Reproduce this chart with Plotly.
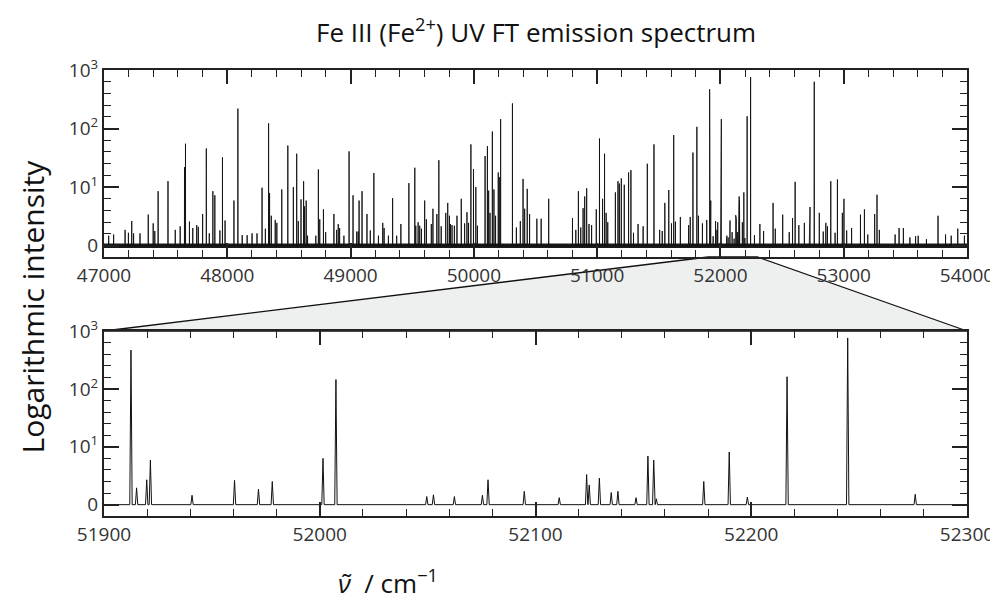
import numpy as np
import plotly.graph_objects as go

# ---------------- data ----------------
TOP_RANGE = [47000, 54000]
ZOOM_RANGE = [51900, 52300]
TOP_XTICKS = [47000, 48000, 49000, 50000, 51000, 52000, 53000, 54000]
ZOOM_XTICKS = [51900, 52000, 52100, 52200, 52300]

# line positions (cm^-1) and linear intensities
PEAK_POS = [
    47038, 47078, 47171, 47198, 47225, 47240, 47292, 47359, 47399, 47412,
    47439, 47519, 47578, 47618, 47653, 47661, 47693, 47720, 47752, 47765,
    47800, 47830, 47854, 47883, 47899, 47940, 47961, 47982, 48054, 48086,
    48121, 48161, 48201, 48241, 48282, 48309, 48335, 48343, 48357, 48389,
    48402, 48442, 48491, 48536, 48563, 48576, 48598, 48619, 48627, 48640,
    48651, 48718, 48739, 48750, 48780, 48798, 48865, 48887, 48900, 48911,
    48946, 48988, 49020, 49050, 49062, 49069, 49093, 49133, 49160, 49189,
    49226, 49261, 49272, 49307, 49341, 49374, 49408, 49473, 49521, 49529,
    49548, 49561, 49575, 49601, 49615, 49655, 49668, 49700, 49716, 49735,
    49772, 49788, 49802, 49810, 49823, 49842, 49863, 49898, 49925, 49944,
    49957, 49976, 49997, 50016, 50029, 50091, 50110, 50120, 50131, 50150,
    50163, 50176, 50198, 50206, 50217, 50313, 50345, 50377, 50399, 50412,
    50433, 50452, 50511, 50546, 50607, 50800, 50827, 50848, 50867, 50886,
    50899, 50915, 50934, 50955, 50993, 51019, 51044, 51060, 51073, 51086,
    51148, 51169, 51180, 51196, 51220, 51255, 51274, 51295, 51332, 51373,
    51407, 51461, 51507, 51528, 51549, 51581, 51603, 51621, 51635, 51675,
    51742, 51755, 51777, 51809, 51822, 51854, 51889,
    51912.5, 51915.1, 51919.8, 51921.5, 51940.8, 51960.5, 51971.6, 51978.0,
    52001.5, 52007.5, 52049.6, 52052.7, 52062.4, 52075.4, 52078.0, 52094.8,
    52111.0, 52123.7, 52124.9, 52129.6, 52135.1, 52138.2, 52146.6, 52152.1,
    52154.8, 52156.0, 52178.0, 52189.8, 52198.2, 52216.6, 52244.7, 52276.0,
    52320, 52350, 52427, 52445, 52505, 52558, 52585, 52606, 52636, 52681,
    52721, 52727, 52761, 52802, 52834, 52855, 52868, 52895, 52930, 52949,
    52989, 53002, 53024, 53064, 53136, 53168, 53195, 53251, 53270, 53289,
    53417, 53449, 53484, 53537, 53583, 53604, 53671, 53765, 53826, 53872,
    53925, 53979,
]
PEAK_INT = [
    0.48, 0.55, 0.86, 0.66, 1.63, 0.62, 0.62, 2.39, 1.40, 0.78,
    7.51, 11.6, 0.86, 1.14, 20.9, 54.0, 1.57, 1.00, 1.24, 1.09,
    2.47, 44.7, 0.62, 7.51, 6.24, 0.82, 31.4, 1.69, 4.89, 218,
    0.51, 0.51, 0.62, 0.62, 8.77, 0.95, 122, 6.94, 2.24, 1.75,
    1.45, 8.12, 50.3, 9.00, 36.2, 1.63, 5.17, 11.6, 3.68, 4.89,
    0.48, 0.48, 19.0, 1.82, 3.17, 0.70, 2.47, 0.86, 1.34, 1.00,
    0.48, 39.7, 6.24, 0.74, 0.74, 4.89, 7.51, 2.47, 0.82, 16.4,
    0.48, 1.45, 1.00, 0.48, 5.46, 0.48, 1.34, 10.7, 20.4, 1.19,
    1.51, 1.19, 0.95, 4.89, 1.82, 1.34, 3.27, 2.47, 27.8, 1.14,
    2.63, 4.37, 2.24, 1.34, 1.24, 1.19, 2.24, 5.31, 1.40, 2.72,
    1.45, 52.7, 19.4, 9.00, 1.19, 32.9, 49.1, 7.71, 2.63, 88.1,
    8.12, 2.24, 16.8, 13.8, 144, 268, 1.04, 1.63, 12.8, 3.27,
    8.33, 2.47, 1.88, 1.88, 5.31, 1.95, 0.86, 7.51, 1.04, 3.37,
    5.92, 8.55, 1.34, 1.24, 3.17, 66.6, 5.31, 36.2, 2.63, 1.51,
    7.13, 11.6, 10.5, 13.1, 9.96, 16.8, 18.5, 0.66, 1.34, 1.14,
    24.1, 52.7, 0.86, 0.78, 4.37, 7.91, 1.40, 76.6, 1.57, 2.09,
    1.24, 2.09, 37.9, 106, 2.24, 1.40, 1.75,
    467, 0.95, 1.69, 4.89, 0.45, 1.63, 0.86, 1.51,
    5.31, 144, 0.38, 0.48, 0.38, 0.45, 1.69, 0.70,
    0.32, 2.31, 1.19, 1.88, 0.62, 0.70, 0.32, 5.92,
    4.89, 0.26, 1.51, 7.13, 0.35, 161, 758, 0.51,
    1.34, 0.78, 4.37, 0.95, 2.39, 0.70, 1.95, 11.3, 1.24, 1.45,
    1.34, 3.57, 630, 2.63, 0.74, 1.45, 1.14, 11.6, 0.66, 12.5,
    2.63, 5.31, 0.82, 1.00, 2.39, 3.17, 0.55, 2.47, 6.41, 0.86,
    0.55, 1.00, 1.00, 0.38, 0.45, 0.48, 0.29, 2.24, 0.55, 0.48,
    0.95, 0.48,
]

Y_TICK_EXP = [1, 2, 3]

# ---------------- build spectra ----------------
pos = np.array(PEAK_POS, dtype=float)
inten = np.array(PEAK_INT, dtype=float)
order = np.argsort(pos)
pos, inten = pos[order], inten[order]
logI = np.log10(1.0 + inten)


def spectrum(lo, hi, hw):
    xs, ys = [lo], [0.0]
    for p, h in zip(pos, logI):
        if lo <= p <= hi:
            xs += [p - hw, p, p + hw]
            ys += [0.0, h, 0.0]
    xs.append(hi)
    ys.append(0.0)
    return xs, ys


xt, yt = spectrum(TOP_RANGE[0], TOP_RANGE[1], 0.6)
xb, yb = spectrum(ZOOM_RANGE[0], ZOOM_RANGE[1], 0.55)

fig = go.Figure()
# dense baseline band of the overview
fig.add_trace(go.Scatter(x=TOP_RANGE, y=[0, 0], mode="lines",
                         line=dict(color="#1a1a1a", width=4.5),
                         xaxis="x", yaxis="y", hoverinfo="skip"))
fig.add_trace(go.Scatter(x=xt, y=yt, mode="lines",
                         line=dict(color="#111111", width=0.9),
                         xaxis="x", yaxis="y"))
fig.add_trace(go.Scatter(x=xb, y=yb, mode="lines",
                         line=dict(color="#111111", width=1.0),
                         xaxis="x2", yaxis="y2"))

FONT = "Open Sans, DejaVu Sans, sans-serif"
tick_font = dict(family=FONT, size=19, color="#333333")

top_dom = [0.5807, 1.0]
bot_dom = [0.0, 0.4148]

yvals = [0] + Y_TICK_EXP
ytext = ["0"] + ["10<sup>%d</sup>" % e for e in Y_TICK_EXP]

common_x = dict(showgrid=False, zeroline=False, ticks="inside", mirror="ticks",
                showline=True, linecolor="#222222", linewidth=2,
                tickcolor="#222222", tickwidth=1.5, ticklen=14,
                tickfont=tick_font)
common_y = dict(showgrid=False, zeroline=False, ticks="inside", mirror="ticks",
                showline=True, linecolor="#222222", linewidth=2,
                tickcolor="#222222", tickwidth=1.5, ticklen=15,
                tickfont=tick_font, tickvals=yvals, ticktext=ytext,
                minor=dict(ticks="inside", ticklen=7, dtick=0.2, tick0=0,
                           tickcolor="#222222", tickwidth=1.3, showgrid=False))

fig.update_layout(
    width=998, height=600,
    margin=dict(l=96, r=30, t=62, b=92),
    paper_bgcolor="white", plot_bgcolor="white",
    showlegend=False,
    xaxis=dict(common_x, domain=[0, 1], range=TOP_RANGE, anchor="y",
               tickvals=TOP_XTICKS, ticktext=[str(v) for v in TOP_XTICKS],
               minor=dict(ticks="inside", ticklen=7, dtick=200,
                          tickcolor="#222222", tickwidth=1.3, showgrid=False)),
    yaxis=dict(common_y, domain=top_dom, range=[-0.194, 3.0], anchor="x"),
    xaxis2=dict(common_x, domain=[0, 1], range=ZOOM_RANGE, anchor="y2",
                tickvals=ZOOM_XTICKS, ticktext=[str(v) for v in ZOOM_XTICKS],
                minor=dict(ticks="inside", ticklen=7, dtick=20,
                           tickcolor="#222222", tickwidth=1.3, showgrid=False)),
    yaxis2=dict(common_y, domain=bot_dom, range=[-0.196, 3.0], anchor="x2"),
)

# zoom connector (trapezoid)
span = TOP_RANGE[1] - TOP_RANGE[0]
xa = (ZOOM_RANGE[0] - TOP_RANGE[0]) / span
xb_ = (ZOOM_RANGE[1] - TOP_RANGE[0]) / span
path = "M %f,%f L %f,%f L 1,%f L 0,%f Z" % (xa, top_dom[0], xb_, top_dom[0],
                                            bot_dom[1], bot_dom[1])
fig.add_shape(type="path", path=path, xref="paper", yref="paper",
              fillcolor="#eef0ef", line=dict(color="#111111", width=1.3),
              layer="below")

fig.add_annotation(text="Fe III (Fe<sup>2+</sup>) UV FT emission spectrum",
                   xref="paper", yref="paper", x=0.5, y=1.0, yshift=18,
                   xanchor="center", yanchor="bottom", showarrow=False,
                   font=dict(family=FONT, size=26, color="#111111"))
fig.add_annotation(text="Logarithmic intensity", textangle=-90,
                   xref="paper", yref="paper", x=0, xshift=-72, y=0.47,
                   xanchor="center", yanchor="middle", showarrow=False,
                   font=dict(family=FONT, size=30, color="#111111"))
fig.add_annotation(text="<i>ν̃</i>  / cm<sup>−1</sup>",
                   xref="paper", yref="paper", x=(383 - 96) / 872, y=0,
                   yshift=-66, xanchor="center", yanchor="middle",
                   showarrow=False,
                   font=dict(family=FONT, size=26, color="#111111"))

fig.write_html("out.html")
